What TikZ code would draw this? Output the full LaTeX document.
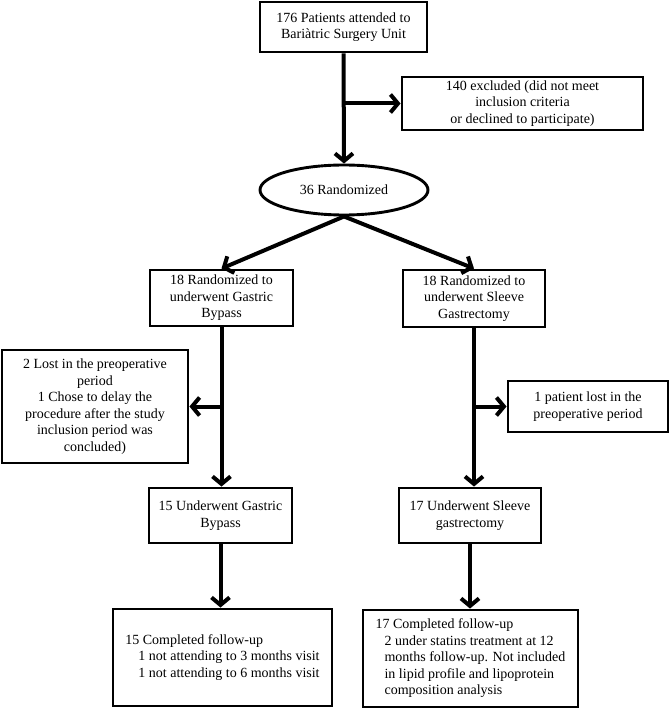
\documentclass[tikz,border=0pt]{standalone}
\usepackage{fontspec}
\setmainfont{Liberation Serif}
\usetikzlibrary{arrows.meta,shapes.geometric}
\begin{document}
\begin{tikzpicture}[x=1pt,y=-1pt,
  box/.style={draw, line width=2.9pt, inner sep=0pt, align=center, font=\fontsize{14}{16.5}\selectfont},
  arr/.style={line width=4pt, line cap=butt, -{Straight Barb[length=7.5pt,width=18pt]}}]
\useasboundingbox (0,0) rectangle (669,708);
\node[box, minimum width=167pt, minimum height=50pt] (top) at (343.5,27) {176 Patients attended to\\Bariàtric Surgery Unit};
\node[box, minimum width=241pt, minimum height=53pt] (excl) at (522.5,103.5) {140 excluded (did not meet\\inclusion criteria\\or declined to participate)};
\node[box, ellipse, minimum width=168pt, minimum height=50pt] (rand) at (344,190) {36 Randomized};
\node[box, minimum width=143pt, minimum height=56pt] (gb1) at (221.5,298) {18 Randomized to\\underwent Gastric\\Bypass};
\node[box, minimum width=142pt, minimum height=57pt] (sg1) at (474,298.5) {18 Randomized to\\underwent Sleeve\\Gastrectomy};
\node[box, minimum width=186pt, minimum height=113pt] (lostgb) at (95,406.5) {2 Lost in the preoperative\\period\\1 Chose to delay the\\procedure after the study\\inclusion period was\\concluded)};
\node[box, minimum width=160pt, minimum height=51pt] (lostsg) at (588,406.5) {1 patient lost in the\\preoperative period};
\node[box, minimum width=143pt, minimum height=55pt] (gb2) at (220.5,515.5) {15 Underwent Gastric\\Bypass};
\node[box, minimum width=142pt, minimum height=55pt] (sg2) at (470,515.5) {17 Underwent Sleeve\\gastrectomy};
\node[box, align=left, minimum width=219pt, minimum height=97pt] (gb3) at (222.5,657.5) {15 Completed follow-up\\\hspace*{13pt}1 not attending to 3 months visit\\\hspace*{13pt}1 not attending to 6 months visit};
\node[box, align=left, minimum width=215pt, minimum height=97pt] (sg3) at (470.5,658.5) {17 Completed follow-up\\\hspace*{9pt}2 under statins treatment at 12\\\hspace*{9pt}months follow-up. Not included\\\hspace*{9pt}in lipid profile and lipoprotein\\\hspace*{9pt}composition analysis};
\draw[arr] (top.south) -- (rand.north);
\draw[arr] (top.south |- excl.west) -- (excl.west);
\draw[arr] (rand.south) -- (gb1.north);
\draw[arr] (rand.south) -- (sg1.north);
\draw[arr] (gb1.south) -- (gb1.south |- gb2.north);
\draw[arr] (gb1.south |- lostgb.east) -- (lostgb.east);
\draw[arr] (sg1.south) -- (sg1.south |- sg2.north);
\draw[arr] (sg1.south |- lostsg.west) -- (lostsg.west);
\draw[arr] (gb2.south) -- (gb2.south |- gb3.north);
\draw[arr] (sg2.south) -- (sg2.south |- sg3.north);
\end{tikzpicture}
\end{document}
